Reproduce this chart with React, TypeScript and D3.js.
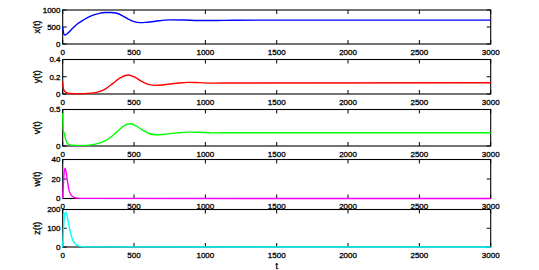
import React from "react";
import * as d3 from "d3";

const xTicks = [0, 500, 1000, 1500, 2000, 2500, 3000];

const xT = [0, 5, 14, 30, 60, 100, 150, 200, 250, 300, 340, 380, 420, 460, 500, 540, 580, 650, 750, 850, 950, 1050, 1200, 1500, 3000];
const xV = [500, 350, 262, 300, 420, 580, 720, 830, 895, 925, 928, 905, 830, 730, 660, 630, 635, 670, 710, 705, 692, 690, 700, 703, 703];

const yT = [0, 3, 10, 25, 50, 100, 150, 200, 250, 300, 350, 400, 440, 460, 500, 550, 600, 650, 700, 800, 880, 950, 1050, 1200, 3000];
const yV = [0.145, 0.08, 0.04, 0.015, 0.006, 0.003, 0.004, 0.01, 0.025, 0.06, 0.12, 0.185, 0.215, 0.22, 0.2, 0.15, 0.112, 0.1, 0.105, 0.125, 0.135, 0.132, 0.126, 0.128, 0.13];

const vT = [0, 2, 5, 10, 20, 35, 60, 100, 150, 200, 250, 300, 350, 400, 440, 470, 500, 550, 600, 650, 700, 800, 880, 950, 1050, 1200, 3000];
const vV = [0.45, 0.3, 0.2, 0.18, 0.1, 0.03, 0.012, 0.008, 0.008, 0.015, 0.035, 0.075, 0.14, 0.23, 0.29, 0.305, 0.29, 0.23, 0.175, 0.155, 0.158, 0.18, 0.19, 0.188, 0.18, 0.182, 0.182];

const wT = [0, 5, 12, 18, 25, 35, 45, 60, 80, 100, 150, 3000];
const wV = [0, 15, 29, 31, 26, 16, 8, 3.5, 1.2, 0.4, 0.1, 0];

const zT = [0, 4, 10, 16, 22, 28, 40, 50, 60, 75, 90, 110, 140, 200, 3000];
const zV = [0, 70, 150, 180, 185, 175, 130, 92, 60, 30, 15, 6, 2, 0.5, 0];

const panels = [
  { label: "x(t)", t: xT, v: xV, max: 1000, ticks: [0, 500, 1000], tickLabels: ["0", "500", "1000"], color: "#0000ff", top: 10, bottom: 44 },
  { label: "y(t)", t: yT, v: yV, max: 0.4, ticks: [0, 0.2, 0.4], tickLabels: ["0", "0.2", "0.4"], color: "#ff0000", top: 59.5, bottom: 94 },
  { label: "v(t)", t: vT, v: vV, max: 0.5, ticks: [0, 0.5], tickLabels: ["0", "0.5"], color: "#00ff00", top: 109.5, bottom: 146 },
  { label: "w(t)", t: wT, v: wV, max: 40, ticks: [0, 20, 40], tickLabels: ["0", "20", "40"], color: "#ff00ff", top: 159.5, bottom: 198.5 },
  { label: "z(t)", t: zT, v: zV, max: 200, ticks: [0, 100, 200], tickLabels: ["0", "100", "200"], color: "#00ffff", top: 209.5, bottom: 247 },
];

const LEFT = 62.7;
const RIGHT = 490.7;
const FONT = "'Liberation Sans', Arial, Helvetica, sans-serif";

export default function App() {
  const x = d3.scaleLinear().domain([0, 3000]).range([LEFT, RIGHT]);
  const textProps = { fontFamily: FONT, fill: "#000", stroke: "#000", strokeWidth: 0.3 };
  return (
    <svg width={539} height={270} style={{ position: "absolute", left: 0, top: 0, background: "#fff" }}>
      <rect x={0} y={0} width={539} height={270} fill="#fff" />
      {panels.map((p, i) => {
        const y = d3.scaleLinear().domain([0, p.max]).range([p.bottom, p.top]);
        const pts = p.t.map((t, k) => [t, p.v[k]] as [number, number]);
        const line = d3
          .line<[number, number]>()
          .x((d) => x(d[0]))
          .y((d) => y(d[1]))
          .curve(d3.curveMonotoneX);
        return (
          <g key={i}>
            <rect x={LEFT} y={p.top} width={RIGHT - LEFT} height={p.bottom - p.top} fill="none" stroke="#000" strokeWidth={1.1} />
            {xTicks.map((t) => (
              <g key={t}>
                <line x1={x(t)} x2={x(t)} y1={p.bottom} y2={p.bottom - 4} stroke="#000" strokeWidth={1} />
                <line x1={x(t)} x2={x(t)} y1={p.top} y2={p.top + 4} stroke="#000" strokeWidth={1} />
                <text x={x(t)} y={p.bottom + 10.6} textAnchor="middle" fontSize={8} {...textProps}>
                  {t}
                </text>
              </g>
            ))}
            {p.ticks.map((v, k) => (
              <g key={k}>
                <line x1={LEFT} x2={LEFT + 4} y1={y(v)} y2={y(v)} stroke="#000" strokeWidth={1} />
                <line x1={RIGHT} x2={RIGHT - 4} y1={y(v)} y2={y(v)} stroke="#000" strokeWidth={1} />
                <text x={LEFT - 2.2} y={y(v) + 2.9} textAnchor="end" fontSize={8} {...textProps}>
                  {p.tickLabels[k]}
                </text>
              </g>
            ))}
            <path d={line(pts) || ""} fill="none" stroke={p.color} strokeWidth={1.4} />
            <text
              transform={`translate(${40},${(p.top + p.bottom) / 2}) rotate(-90)`}
              textAnchor="middle"
              fontSize={9}
              {...textProps}
            >
              {p.label}
            </text>
          </g>
        );
      })}
      <text x={(LEFT + RIGHT) / 2} y={268.5} textAnchor="middle" fontSize={9} {...textProps}>
        t
      </text>
    </svg>
  );
}
